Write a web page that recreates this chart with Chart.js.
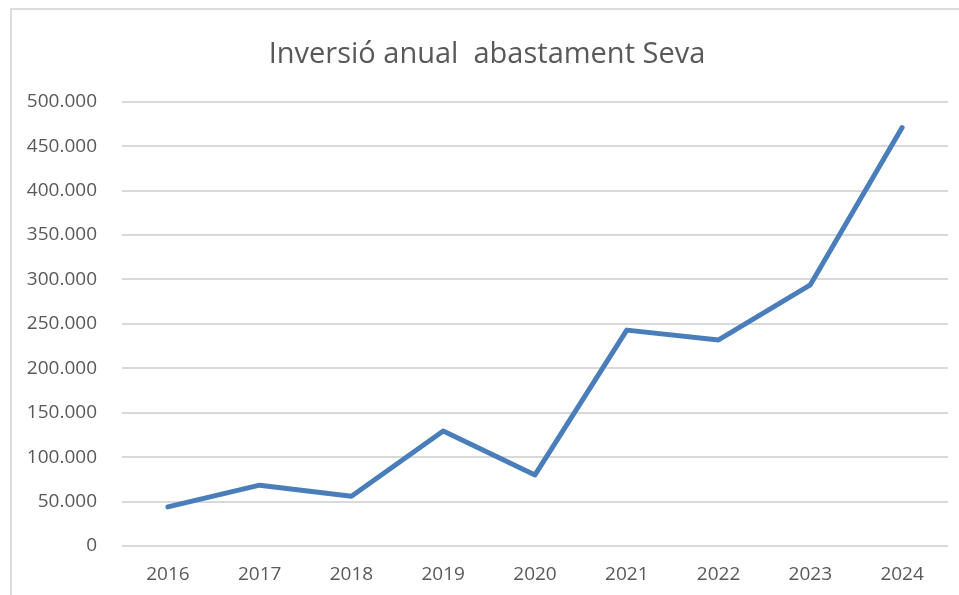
<!DOCTYPE html>
<html>
<head>
<meta charset="utf-8">
<script src="https://cdn.jsdelivr.net/npm/chart.js@4/dist/chart.umd.min.js"></script>
<style>
  html, body { margin: 0; padding: 0; background: #ffffff; }
  body { width: 959px; height: 595px; position: relative; overflow: hidden; }
  #frame { position: absolute; left: 10px; top: 8px; width: 947px; height: 587px;
           border-top: 2px solid #dcdcdc; border-left: 2px solid #dcdcdc; }
  #wrap { position: absolute; left: 0; top: 0; width: 947px; height: 587px; }
</style>
</head>
<body>
<div id="frame"><div id="wrap"><canvas id="c"></canvas></div></div>
<script>
const categories = ['2016', '2017', '2018', '2019', '2020', '2021', '2022', '2023', '2024'];
const investment = [44000, 68500, 56000, 129500, 80000, 243000, 232000, 294000, 471000];
const chartTitle = 'Inversió anual  abastament Seva';

function fmt(v) {
  return String(Math.round(v)).replace(/\B(?=(\d{3})+(?!\d))/g, '.');
}

const textColor = '#595959';
const gridColor = '#d9d9d9';
const fontFamily = "'Open Sans', 'Liberation Sans', sans-serif";

new Chart(document.getElementById('c'), {
  type: 'line',
  data: {
    labels: categories,
    datasets: [{
      label: chartTitle,
      data: investment,
      borderColor: '#4a7ebb',
      backgroundColor: '#4a7ebb',
      borderWidth: 5,
      borderCapStyle: 'round',
      borderJoinStyle: 'round',
      pointRadius: 0,
      tension: 0,
      fill: false
    }]
  },
  options: {
    responsive: true,
    maintainAspectRatio: false,
    animation: false,
    layout: { padding: { left: 14, right: 11, top: 0, bottom: 0 } },
    plugins: {
      legend: { display: false },
      tooltip: { enabled: false },
      title: {
        display: true,
        text: chartTitle,
        color: textColor,
        font: { family: fontFamily, size: 29, weight: 'normal' },
        padding: { top: 27, bottom: 30 }
      }
    },
    scales: {
      x: {
        offset: true,
        grid: { display: false, drawTicks: false },
        border: { display: false },
        ticks: {
          color: textColor,
          font: { family: fontFamily, size: 19 },
          padding: 17,
          maxRotation: 0
        },
        afterFit: (s) => { s.height = 51; }
      },
      y: {
        min: 0,
        max: 500000,
        grid: { color: gridColor, lineWidth: 2, drawTicks: false },
        border: { display: false },
        ticks: {
          stepSize: 50000,
          color: textColor,
          font: { family: fontFamily, size: 19 },
          padding: 25,
          callback: (v) => fmt(v)
        },
        afterFit: (s) => { s.width = 96; }
      }
    }
  }
});
</script>
</body>
</html>
